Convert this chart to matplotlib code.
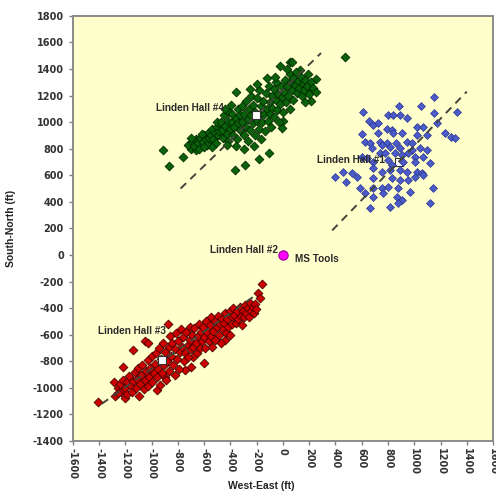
import numpy as np
import matplotlib.pyplot as plt

plt.rcParams['axes.unicode_minus'] = False

# Linden Hall #4 event locations (West-East, South-North) in ft
lh4_pts = [
    (-910, 790), (-870, 670), (-760, 735), (-700, 800), (-665, 790), (-555, 850),
    (-355, 1225), (-365, 640), (-290, 680), (-110, 770), (0, 1010), (-10, 955),
    (55, 1455), (255, 1325), (205, 1245), (470, 1490), (130, 1395), (70, 1450), (-180, 720),
    (-720, 830), (-690, 850), (-680, 820), (-660, 870), (-650, 840), (-700, 880), (-640, 800),
    (-630, 880), (-610, 850), (-600, 900), (-590, 870), (-580, 830), (-570, 920), (-560, 880),
    (-620, 910), (-600, 810),
    (-550, 900), (-540, 950), (-530, 870), (-520, 920), (-510, 840), (-500, 960), (-495, 900),
    (-485, 930), (-540, 810), (-505, 1000),
    (-470, 1000), (-465, 940), (-460, 880), (-450, 1050), (-445, 970), (-430, 910), (-420, 1010),
    (-415, 860), (-410, 1080), (-400, 950), (-440, 1100), (-425, 830),
    (-390, 1000), (-385, 1060), (-380, 900), (-370, 960), (-360, 1030), (-350, 870), (-345, 1100),
    (-340, 990), (-330, 940), (-325, 1050), (-395, 1130), (-360, 820),
    (-315, 1000), (-310, 1120), (-300, 900), (-295, 1060), (-285, 960), (-280, 1160), (-270, 1020),
    (-265, 860), (-255, 1100), (-250, 940), (-245, 1200), (-240, 1050), (-300, 800),
    (-230, 990), (-225, 1130), (-215, 900), (-210, 1080), (-200, 1010), (-195, 1180), (-185, 950),
    (-180, 1240), (-175, 1060), (-170, 870), (-165, 1120), (-160, 1000), (-220, 820),
    (-150, 1160), (-145, 1060), (-140, 930), (-130, 1220), (-125, 1100), (-115, 1010), (-110, 1270),
    (-100, 1150), (-95, 1060), (-90, 960), (-85, 1200), (-80, 1110),
    (-70, 1250), (-65, 1040), (-55, 1170), (-50, 1300), (-45, 1090), (-35, 1210), (-30, 1000),
    (-20, 1140), (-15, 1270), (-5, 1190), (0, 1080), (-60, 1340),
    (10, 1230), (15, 1320), (25, 1150), (30, 1270), (40, 1200), (50, 1360), (55, 1100), (60, 1300),
    (70, 1240), (75, 1170), (80, 1330),
    (90, 1280), (100, 1380), (105, 1220), (115, 1310), (125, 1260), (135, 1340), (145, 1200),
    (150, 1290), (160, 1240),
    (170, 1320), (180, 1270), (190, 1360), (200, 1210), (215, 1300), (230, 1260), (250, 1230),
    (210, 1160), (165, 1150),
    (-200, 1290), (-120, 1330), (-250, 1250), (-20, 1420), (30, 1400),
]

# Linden Hall #1 event locations
lh1_pts = [
    (1153, 1187), (887, 1124), (1054, 1124), (612, 1079), (803, 1054), (836, 1054), (892, 1054),
    (1153, 1066), (1323, 1079), (947, 1029), (658, 1011), (688, 978), (727, 991), (1019, 966),
    (1064, 966), (1171, 991), (600, 911), (727, 921), (790, 946), (828, 941), (841, 916),
    (904, 916), (1019, 903), (1095, 903), (1235, 916), (1278, 886), (1311, 878), (625, 853),
    (663, 840), (739, 853), (790, 840), (861, 840), (942, 853), (981, 840), (676, 803),
    (752, 828), (815, 815), (892, 803), (981, 790), (1044, 803), (1095, 790), (739, 765),
    (777, 770), (854, 765), (904, 753), (955, 765), (1006, 740), (1064, 740), (600, 740),
    (638, 727), (688, 702), (803, 715), (828, 677), (917, 702), (1006, 702), (1120, 695),
    (688, 652), (752, 627), (815, 640), (892, 640), (942, 627), (1019, 627), (1057, 614),
    (460, 627), (523, 614), (561, 589), (396, 589), (480, 552), (688, 577), (828, 577),
    (892, 564), (955, 564), (1006, 589), (1069, 602), (587, 502), (688, 502), (752, 502),
    (803, 514), (879, 502), (968, 476), (1146, 502), (625, 464), (765, 464), (866, 439),
    (904, 414), (688, 439), (663, 351), (815, 364), (879, 389), (1120, 389),
]

# Linden Hall #3 event locations
lh3_pts = [
    (-1410, -1105), (-1290, -955), (-1280, -1065), (-1205, -1080), (-1140, -715), (-1050, -650),
    (-1025, -665), (-875, -520), (-440, -640), (-605, -815), (-685, -765), (-160, -220),
    (-190, -290), (-175, -325), (-1220, -840), (-745, -865), (-960, -1020), (-900, -920),
    (-820, -900), (-700, -840),
    (-1255, -1000), (-1240, -970), (-1230, -1030), (-1215, -940), (-1200, -1000), (-1190, -960),
    (-1185, -1050), (-1260, -1040),
    (-1170, -910), (-1160, -990), (-1150, -1030), (-1140, -950), (-1130, -880), (-1120, -1000),
    (-1110, -930), (-1100, -1060), (-1105, -850),
    (-1090, -970), (-1080, -900), (-1070, -830), (-1060, -1010), (-1050, -940), (-1040, -870),
    (-1030, -790), (-1025, -990), (-1020, -920),
    (-1010, -850), (-1000, -760), (-995, -960), (-985, -890), (-975, -820), (-965, -740),
    (-960, -920), (-950, -860), (-945, -700), (-940, -980),
    (-930, -780), (-920, -890), (-915, -660), (-905, -830), (-895, -730), (-890, -940),
    (-880, -800), (-870, -690), (-865, -870), (-860, -610),
    (-850, -760), (-845, -660), (-835, -830), (-825, -710), (-815, -590), (-810, -780),
    (-800, -650), (-795, -860), (-785, -730), (-780, -560),
    (-770, -690), (-760, -620), (-755, -800), (-745, -740), (-735, -580), (-725, -680),
    (-720, -770), (-710, -640), (-705, -540), (-700, -710),
    (-690, -600), (-685, -690), (-675, -550), (-665, -660), (-655, -740), (-650, -610),
    (-640, -520), (-635, -700), (-625, -580), (-620, -650),
    (-610, -540), (-600, -620), (-595, -700), (-585, -500), (-575, -580), (-565, -650),
    (-555, -530), (-550, -610), (-545, -470), (-540, -690),
    (-530, -570), (-520, -500), (-515, -640), (-505, -540), (-495, -460), (-490, -600),
    (-480, -520), (-470, -660), (-465, -480), (-460, -560),
    (-450, -510), (-445, -440), (-435, -590), (-425, -480), (-415, -540), (-405, -420),
    (-400, -600), (-390, -470), (-385, -520), (-380, -400),
    (-370, -450), (-360, -510), (-350, -420), (-340, -480), (-330, -390), (-320, -460),
    (-315, -530), (-305, -420), (-300, -470),
    (-290, -380), (-280, -440), (-270, -400), (-260, -470), (-250, -360), (-240, -420),
    (-230, -390), (-220, -440), (-210, -370), (-205, -410),
]

wells = [(-205, 1050), (-925, -790), (885, 700)]
ms_tools = (0, 0)
trend_lh4 = [(-780, 500), (290, 1520)]
trend_lh1 = [(375, 185), (1400, 1230)]
trend_lh3 = [(-1380, -1120), (-190, -290)]
labels = [('Linden Hall #4', -450, 1105, 'right'), ('Linden Hall #1', 780, 715, 'right'),
          ('Linden Hall #2', -40, 40, 'right'), ('MS Tools', 95, -30, 'left'),
          ('Linden Hall #3', -890, -570, 'right')]
xticks = np.arange(-1600, 1601, 200)
yticks = np.arange(-1400, 1801, 200)

fig = plt.figure(figsize=(4.96, 4.96), dpi=100)
ax = fig.add_axes([0.147, 0.111, 0.847, 0.857])
ax.set_facecolor('#FFFFCC')

dash = dict(color='#44443a', lw=1.4, ls=(0, (4, 3)), zorder=3)
for tr in (trend_lh4, trend_lh1, trend_lh3):
    t = np.array(tr)
    ax.plot(t[:, 0], t[:, 1], **dash)

g = np.array(lh4_pts); b = np.array(lh1_pts); r = np.array(lh3_pts)
ax.scatter(g[:, 0], g[:, 1], marker='D', s=20, c='#0a620a', edgecolors='#022a02', linewidths=0.6, zorder=2)
ax.scatter(r[:, 0], r[:, 1], marker='D', s=20, c='#cc0000', edgecolors='#4a0000', linewidths=0.6, zorder=2)
w = np.array(wells)
ax.scatter(w[2:, 0], w[2:, 1], marker='s', s=28, c='white', edgecolors='#333333', linewidths=0.8, zorder=1.5)
ax.scatter(b[:, 0], b[:, 1], marker='D', s=16, c='#4b5bc8', edgecolors='#2a3590', linewidths=0.5, zorder=2)
ax.scatter(w[:2, 0], w[:2, 1], marker='s', s=30, c='white', edgecolors='#333333', linewidths=0.8, zorder=4)
ax.scatter([ms_tools[0]], [ms_tools[1]], marker='o', s=45, c='#ff00ff', edgecolors='#990099', linewidths=0.8, zorder=4)

for txt, x, y, ha in labels:
    ax.text(x, y, txt, ha=ha, va='center', fontsize=7.2, fontweight='bold',
            family='Liberation Sans', color='#2a2a2a', zorder=5)

ax.set_xlim(-1600, 1600)
ax.set_ylim(-1400, 1800)
ax.set_xticks(xticks)
ax.set_yticks(yticks)
ax.tick_params(axis='both', direction='out', length=3, width=1, color='#808080',
               labelsize=7, labelcolor='#333333')
ax.tick_params(axis='x', labelrotation=270, pad=2)
for lab in ax.get_xticklabels() + ax.get_yticklabels():
    lab.set_fontweight('bold')
for sp in ax.spines.values():
    sp.set_color('#8a8a8a')
    sp.set_linewidth(1.4)

ax.set_xlabel('West-East (ft)', fontsize=7.5, fontweight='bold', family='Liberation Sans', color='#222222')
ax.set_ylabel('South-North (ft)', fontsize=7.5, fontweight='bold', family='Liberation Sans', color='#222222')
ax.xaxis.set_label_coords(0.448, -0.095)
ax.yaxis.set_label_coords(-0.135, 0.5)

fig.savefig('out.png', dpi=100, facecolor='white')
